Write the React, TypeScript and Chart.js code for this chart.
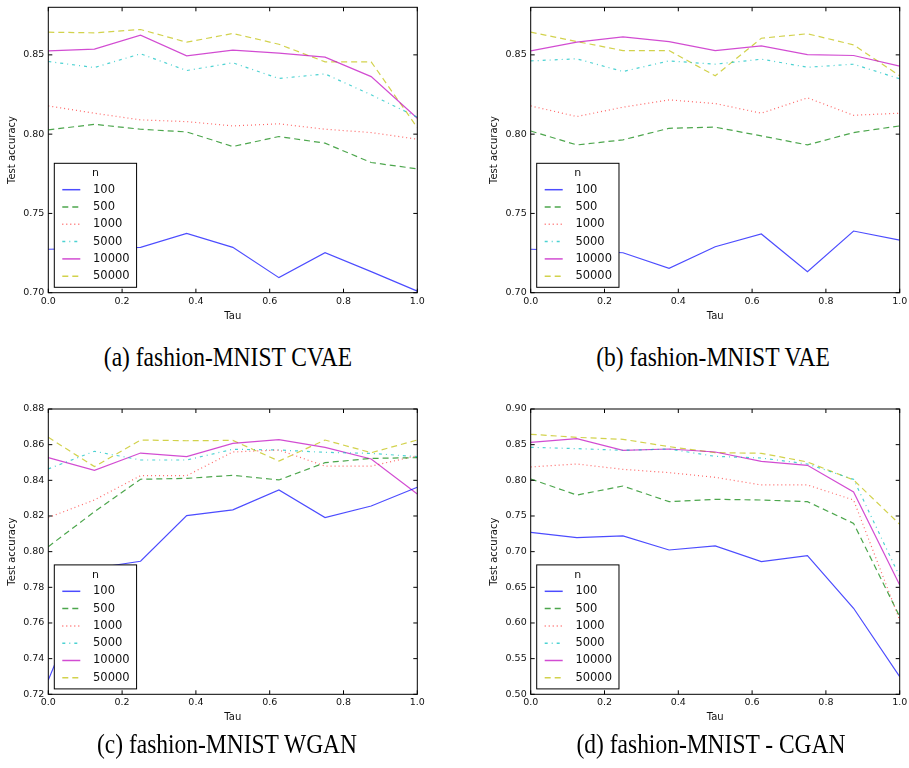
import React, { useEffect, useRef } from "react";
import { Chart, registerables } from "chart.js";

Chart.register(...registerables);

// ---------- data ----------
const TAU = [0, 0.125, 0.25, 0.375, 0.5, 0.625, 0.75, 0.875, 1.0];
const SERIES_LABELS = ["100", "500", "1000", "5000", "10000", "50000"];
const X_TICKS = [0.0, 0.2, 0.4, 0.6, 0.8, 1.0];

// (a) fashion-MNIST CVAE
const CVAE_100 = [0.7274, 0.728, 0.7286, 0.7374, 0.7286, 0.7095, 0.7252, 0.7133, 0.701];
const CVAE_500 = [0.8027, 0.8062, 0.8031, 0.8014, 0.7922, 0.7985, 0.7943, 0.7821, 0.7781];
const CVAE_1000 = [0.8178, 0.8132, 0.809, 0.8079, 0.8052, 0.8065, 0.8031, 0.801, 0.7968];
const CVAE_5000 = [0.8458, 0.842, 0.8507, 0.8401, 0.845, 0.8351, 0.838, 0.8248, 0.8107];
const CVAE_10000 = [0.8525, 0.8536, 0.8624, 0.8494, 0.853, 0.8511, 0.8486, 0.8363, 0.81];
const CVAE_50000 = [0.8643, 0.8639, 0.866, 0.858, 0.8635, 0.8567, 0.8456, 0.8456, 0.8041];

// (b) fashion-MNIST VAE
const VAE_100 = [0.7274, 0.7265, 0.7252, 0.7154, 0.729, 0.737, 0.7133, 0.7389, 0.7332];
const VAE_500 = [0.802, 0.7932, 0.7964, 0.8037, 0.8044, 0.7989, 0.7932, 0.801, 0.8052];
const VAE_1000 = [0.8178, 0.8111, 0.817, 0.8216, 0.8193, 0.8132, 0.8229, 0.8119, 0.8132];
const VAE_5000 = [0.8462, 0.8475, 0.8395, 0.8462, 0.8441, 0.8473, 0.8422, 0.8441, 0.8349];
const VAE_10000 = [0.8525, 0.858, 0.8614, 0.8584, 0.8527, 0.8557, 0.8502, 0.8496, 0.8429];
const VAE_50000 = [0.8643, 0.8584, 0.8527, 0.8527, 0.8368, 0.8605, 0.8633, 0.8563, 0.8368];

// (c) fashion-MNIST WGAN
const WGAN_100 = [0.728, 0.7907, 0.7946, 0.8202, 0.8234, 0.8346, 0.8191, 0.8256, 0.8361];
const WGAN_500 = [0.8028, 0.8224, 0.8406, 0.8411, 0.8428, 0.8402, 0.8499, 0.8523, 0.8527];
const WGAN_1000 = [0.8191, 0.829, 0.8426, 0.8426, 0.8559, 0.857, 0.848, 0.848, 0.8538];
const WGAN_5000 = [0.8464, 0.8563, 0.8514, 0.8514, 0.8574, 0.857, 0.8557, 0.8551, 0.8533];
const WGAN_10000 = [0.8527, 0.8456, 0.8553, 0.8533, 0.8607, 0.8628, 0.8585, 0.852, 0.8323];
const WGAN_50000 = [0.8641, 0.8477, 0.8626, 0.8622, 0.8624, 0.8508, 0.8626, 0.8555, 0.8626];

// (d) fashion-MNIST - CGAN
const CGAN_100 = [0.7271, 0.7196, 0.722, 0.7023, 0.708, 0.686, 0.6944, 0.6206, 0.5248];
const CGAN_500 = [0.8019, 0.7794, 0.792, 0.7701, 0.7734, 0.7724, 0.7701, 0.7397, 0.6089];
const CGAN_1000 = [0.8187, 0.8229, 0.8154, 0.8108, 0.8042, 0.7935, 0.7935, 0.7724, 0.6042];
const CGAN_5000 = [0.8463, 0.8444, 0.8421, 0.8439, 0.8336, 0.8313, 0.8229, 0.8014, 0.665];
const CGAN_10000 = [0.8533, 0.8584, 0.8421, 0.8439, 0.8397, 0.8266, 0.821, 0.7836, 0.6533];
const CGAN_50000 = [0.8645, 0.8603, 0.8575, 0.8472, 0.8388, 0.8379, 0.8257, 0.8005, 0.7383];

const Y_TICKS_VAE = [0.7, 0.75, 0.8, 0.85];
const Y_TICKS_WGAN = [0.72, 0.74, 0.76, 0.78, 0.8, 0.82, 0.84, 0.86, 0.88];
const Y_TICKS_CGAN = [0.5, 0.55, 0.6, 0.65, 0.7, 0.75, 0.8, 0.85, 0.9];

const CAPTIONS = [
  "(a) fashion-MNIST CVAE",
  "(b) fashion-MNIST VAE",
  "(c) fashion-MNIST WGAN",
  "(d) fashion-MNIST - CGAN",
];

// ---------- styles ----------
const COLORS = [
  "rgba(0,0,255,0.7)",
  "rgba(0,128,0,0.7)",
  "rgba(255,0,0,0.6)",
  "rgba(0,191,191,0.7)",
  "rgba(191,0,191,0.7)",
  "rgba(191,191,0,0.7)",
];
const DASHES: number[][] = [[], [6, 4], [1, 3], [3, 4, 1, 4], [], [6, 4]];
const FONT = '"DejaVu Sans", sans-serif';
const TEXT = "#111";

type PanelCfg = {
  left: number;
  top: number;
  w: number;
  h: number;
  plotLeft: number;
  plotTop: number;
  plotRight: number;
  plotBottom: number;
  tauCenter: number;
  yMin: number;
  yMax: number;
  yTicks: number[];
  series: number[][];
};

const PANELS: PanelCfg[] = [
  {
    left: 0, top: 0, w: 440, h: 335,
    plotLeft: 48.3, plotTop: 7.3, plotRight: 417.3, plotBottom: 292.7, tauCenter: 316.3,
    yMin: 0.7, yMax: 0.88, yTicks: Y_TICKS_VAE,
    series: [CVAE_100, CVAE_500, CVAE_1000, CVAE_5000, CVAE_10000, CVAE_50000],
  },
  {
    left: 482, top: 0, w: 427, h: 335,
    plotLeft: 48.7, plotTop: 7.3, plotRight: 417.7, plotBottom: 292.7, tauCenter: 316.3,
    yMin: 0.7, yMax: 0.88, yTicks: Y_TICKS_VAE,
    series: [VAE_100, VAE_500, VAE_1000, VAE_5000, VAE_10000, VAE_50000],
  },
  {
    left: 0, top: 390, w: 440, h: 345,
    plotLeft: 48.3, plotTop: 19, plotRight: 417.3, plotBottom: 304.3, tauCenter: 327.5,
    yMin: 0.72, yMax: 0.88, yTicks: Y_TICKS_WGAN,
    series: [WGAN_100, WGAN_500, WGAN_1000, WGAN_5000, WGAN_10000, WGAN_50000],
  },
  {
    left: 482, top: 390, w: 427, h: 345,
    plotLeft: 48.7, plotTop: 19, plotRight: 417.7, plotBottom: 304.3, tauCenter: 327.5,
    yMin: 0.5, yMax: 0.9, yTicks: Y_TICKS_CGAN,
    series: [CGAN_100, CGAN_500, CGAN_1000, CGAN_5000, CGAN_10000, CGAN_50000],
  },
];

// ---------- plugins ----------
const framePlugin = {
  id: "mplFrame",
  afterDatasetsDraw(chart: any) {
    const { ctx, chartArea } = chart;
    const { left, right, top, bottom } = chartArea;
    ctx.save();
    ctx.strokeStyle = "#000";
    ctx.lineWidth = 1;
    ctx.setLineDash([]);
    ctx.strokeRect(left, top, right - left, bottom - top);
    const tl = 4;
    ctx.beginPath();
    const xs = chart.scales.x;
    xs.ticks.forEach((t: any) => {
      const px = xs.getPixelForValue(t.value);
      ctx.moveTo(px, bottom);
      ctx.lineTo(px, bottom - tl);
      ctx.moveTo(px, top);
      ctx.lineTo(px, top + tl);
    });
    const ys = chart.scales.y;
    ys.ticks.forEach((t: any) => {
      const py = ys.getPixelForValue(t.value);
      ctx.moveTo(left, py);
      ctx.lineTo(left + tl, py);
      ctx.moveTo(right, py);
      ctx.lineTo(right - tl, py);
    });
    ctx.stroke();
    ctx.restore();
  },
};

const legendPlugin = {
  id: "mplLegend",
  afterDraw(chart: any) {
    const { ctx, chartArea } = chart;
    const ds = chart.data.datasets;
    ctx.save();
    const fs = 11.5;
    ctx.font = `${fs}px ${FONT}`;
    let maxW = 0;
    ds.forEach((d: any) => {
      maxW = Math.max(maxW, ctx.measureText(d.label).width);
    });
    const w = 38.7 + maxW + 7;
    const h = 124;
    const left = chartArea.left + 6;
    const bottom = chartArea.bottom - 5.4;
    const top = bottom - h;
    ctx.fillStyle = "#fff";
    ctx.fillRect(left, top, w, h);
    ctx.strokeStyle = "#000";
    ctx.lineWidth = 1;
    ctx.setLineDash([]);
    ctx.strokeRect(left, top, w, h);
    ctx.fillStyle = TEXT;
    ctx.textBaseline = "middle";
    ctx.textAlign = "center";
    ctx.font = `11px ${FONT}`;
    ctx.fillText("n", left + w / 2, top + 10);
    ctx.textAlign = "left";
    ctx.font = `${fs}px ${FONT}`;
    ds.forEach((d: any, i: number) => {
      const y = top + 26.4 + i * 17.3;
      ctx.beginPath();
      ctx.strokeStyle = d.borderColor;
      ctx.lineWidth = d.borderWidth + 0.3;
      ctx.setLineDash(d.borderDash || []);
      ctx.moveTo(left + 8, y);
      ctx.lineTo(left + 26, y);
      ctx.stroke();
      ctx.setLineDash([]);
      ctx.fillStyle = TEXT;
      ctx.fillText(d.label, left + 38.7, y);
    });
    ctx.restore();
  },
};

function buildConfig(p: PanelCfg): any {
  const datasets = SERIES_LABELS.map((lab, i) => ({
    label: lab,
    data: TAU.map((t, j) => ({ x: t, y: p.series[i][j] })),
    borderColor: COLORS[i],
    backgroundColor: COLORS[i],
    borderDash: DASHES[i],
    borderWidth: 1.2,
    pointRadius: 0,
    fill: false,
    tension: 0,
  }));
  const tickFont = { family: FONT, size: 9.5 };
  const titleFont = { family: FONT, size: 10 };
  return {
    type: "line",
    data: { datasets },
    options: {
      responsive: false,
      animation: false,
      events: [],
      layout: {
        padding: { left: 0, top: p.plotTop, right: p.w - p.plotRight, bottom: 0 },
      },
      plugins: { legend: { display: false }, tooltip: { enabled: false } },
      scales: {
        x: {
          type: "linear",
          min: 0,
          max: 1,
          afterBuildTicks: (s: any) => {
            s.ticks = X_TICKS.map((v) => ({ value: v }));
          },
          afterFit: (s: any) => {
            s.height = p.h - p.plotBottom;
            s.paddingLeft = 0;
            s.paddingRight = 0;
          },
          grid: { display: false, drawTicks: false },
          border: { display: false },
          ticks: {
            padding: 3,
            font: tickFont,
            color: TEXT,
            maxRotation: 0,
            autoSkip: false,
            callback: (v: any) => Number(v).toFixed(1),
          },
          title: {
            display: true,
            text: "Tau",
            font: titleFont,
            color: TEXT,
            padding: { top: 0, bottom: p.h - p.tauCenter - 6 },
          },
        },
        y: {
          type: "linear",
          min: p.yMin,
          max: p.yMax,
          afterBuildTicks: (s: any) => {
            s.ticks = p.yTicks.map((v) => ({ value: v }));
          },
          afterFit: (s: any) => {
            s.width = p.plotLeft;
            s.paddingTop = 0;
            s.paddingBottom = 0;
          },
          grid: { display: false, drawTicks: false },
          border: { display: false },
          ticks: {
            padding: 4,
            font: tickFont,
            color: TEXT,
            autoSkip: false,
            callback: (v: any) => Number(v).toFixed(2),
          },
          title: {
            display: true,
            text: "Test accuracy",
            font: titleFont,
            color: TEXT,
            padding: { top: 6.3, bottom: 0 },
          },
        },
      },
    },
    plugins: [framePlugin, legendPlugin],
  };
}

function Panel({ p }: { p: PanelCfg }) {
  const ref = useRef<HTMLCanvasElement>(null);
  useEffect(() => {
    const chart = new Chart(ref.current as HTMLCanvasElement, buildConfig(p));
    return () => chart.destroy();
  }, [p]);
  return (
    <canvas
      ref={ref}
      width={p.w}
      height={p.h}
      style={{ position: "absolute", left: p.left, top: p.top, width: p.w, height: p.h, display: "block" }}
    />
  );
}

const CAPTION_POS = [
  { cx: 227.5, top: 344 },
  { cx: 712.5, top: 344 },
  { cx: 227, top: 731 },
  { cx: 711, top: 731 },
];

export default function App() {
  return (
    <div
      style={{
        position: "absolute",
        left: 0,
        top: 0,
        width: 909,
        height: 768,
        background: "#fff",
        overflow: "hidden",
      }}
    >
      {PANELS.map((p, i) => (
        <Panel key={i} p={p} />
      ))}
      {CAPTIONS.map((c, i) => (
        <div
          key={"c" + i}
          style={{
            position: "absolute",
            left: CAPTION_POS[i].cx - 200,
            top: CAPTION_POS[i].top,
            width: 400,
            textAlign: "center",
            fontFamily: '"Liberation Serif", serif',
            fontSize: 27,
            lineHeight: "27px",
            color: "#000",
            whiteSpace: "nowrap",
            transform: "scaleX(0.87)",
            transformOrigin: "center",
          }}
        >
          {c}
        </div>
      ))}
    </div>
  );
}
